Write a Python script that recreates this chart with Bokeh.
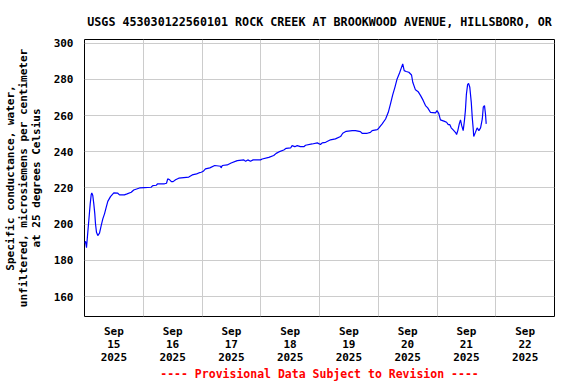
from bokeh.plotting import figure
from bokeh.models import Range1d, FixedTicker
from bokeh.embed import file_html
from bokeh.resources import INLINE

# hours since 2025-09-15 00:00
hours = [0.0, 0.41, 0.82, 1.35, 1.76, 2.33, 2.74, 2.98, 3.39, 3.80, 4.21, 4.49, 4.9, 5.43,
         6.13, 6.82, 7.48, 8.17, 8.86, 9.52, 10.62, 11.97, 13.6, 14.3, 16.3, 17.4, 19.1,
         20.1, 22.5, 24.5, 27.2, 27.9, 29.3, 29.9, 32.7, 33.5, 34.0, 34.8, 35.5, 36.2,
         37.2, 38.5, 42.6, 44.0, 45.8, 46.7, 47.7, 48.5, 49.4, 51.2, 53.2, 55.6, 55.8,
         56.3, 58.3, 59.9, 62.4, 65.1, 65.8, 66.7, 67.8, 68.9, 71.9, 72.6, 75.3, 77.3,
         78.3, 79.4, 81.4, 82.4, 84.2, 84.8, 85.9, 86.9, 88.2, 89.6, 90.3, 93.0, 95.1,
         96.4, 97.1, 98.5, 100.5, 102.5, 104.6, 105.5, 106.9, 109.4, 110.7, 112.7, 113.4,
         115.5, 116.8, 117.5, 119.6, 120.2, 121.6, 123.0, 124.1, 125.0, 125.9, 126.8,
         127.7, 128.7, 129.5, 130.0, 130.6, 131.4, 132.5, 133.6, 134.1, 135.2, 136.3,
         137.3, 138.3, 139.3, 140.2, 141.3, 143.4, 144.0, 144.7, 145.4, 147.1, 147.9,
         148.6, 149.2, 149.8, 150.6, 151.6, 152.0, 152.5, 153.1, 153.6, 154.1, 154.7,
         155.2, 155.6, 156.0, 156.5, 156.9, 157.4, 158.0, 158.4, 158.8, 159.0, 159.7,
         160.4, 161.1, 161.8, 162.5, 162.9, 163.4, 163.8, 164.1]
conductance = [189.5, 190.5, 187.0, 195.5, 202.0, 211.2, 216.3, 217.3, 215.8, 211.2, 205.7,
               200.2, 195.5, 193.7, 195.0, 199.2, 202.9, 205.7, 209.3, 212.6, 215.2, 217.3,
               217.1, 216.2, 216.2, 216.7, 217.6, 218.9, 220.0, 220.2, 220.4, 221.3, 221.5,
               222.3, 222.3, 222.6, 225.0, 224.5, 223.5, 223.5, 224.5, 225.4, 226.0, 227.2,
               227.8, 228.3, 228.7, 229.2, 230.5, 231.1, 232.4, 232.0, 231.1, 232.4, 232.7,
               233.8, 235.1, 235.5, 234.7, 235.5, 234.7, 235.5, 235.5, 236.0, 236.9, 237.9,
               239.1, 239.9, 241.0, 241.9, 242.1, 243.4, 242.8, 243.4, 242.8, 242.8, 243.6,
               244.3, 244.9, 244.0, 244.9, 245.2, 246.6, 247.1, 248.4, 250.2, 251.3, 251.7,
               251.7, 251.1, 250.2, 250.2, 250.7, 251.7, 252.2, 253.0, 255.4, 258.1, 261.8,
               266.4, 271.4, 275.6, 280.2, 283.5, 286.6, 288.5, 284.8, 284.3, 283.9, 282.4,
               278.4, 274.2, 273.2, 271.0, 268.5, 265.5, 264.2, 261.8, 261.5, 262.7, 261.2,
               257.6, 256.8, 256.3, 255.0, 255.0, 253.2, 252.1, 250.6, 249.5, 251.7, 255.4,
               257.6, 254.4, 251.7, 257.2, 262.7, 271.6, 277.1, 277.8, 275.6, 267.3, 259.0,
               252.6, 248.4, 250.7, 253.2, 251.7, 253.2, 258.1, 264.6, 265.5, 260.9, 255.4]

day_label_pos = [12, 36, 60, 84, 108, 132, 156, 180]
day_labels = ["Sep\n15\n2025", "Sep\n16\n2025", "Sep\n17\n2025", "Sep\n18\n2025",
              "Sep\n19\n2025", "Sep\n20\n2025", "Sep\n21\n2025", "Sep\n22\n2025"]
midnights = [24, 48, 72, 96, 120, 144, 168]
y_ticks = [160, 180, 200, 220, 240, 260, 280, 300]

FONT = "DejaVu Sans Mono"

p = figure(width=576, height=384, output_backend="svg", toolbar_location=None,
           x_range=Range1d(0, 192), y_range=Range1d(149, 302),
           min_border_left=84, min_border_right=22, min_border_top=39, min_border_bottom=68,
           title="USGS 453030122560101 ROCK CREEK AT BROOKWOOD AVENUE, HILLSBORO, OR")
p.background_fill_color = "white"
p.border_fill_color = "white"
p.outline_line_color = "black"
p.outline_line_width = 1

p.title.text_font = FONT
p.title.text_font_size = "11.7px"
p.title.text_font_style = "bold"
p.title.align = "center"
p.title.text_color = "black"
p.title.standoff = 21

p.line(hours, conductance, line_color="#0000FF", line_width=1.2)

xa = p.xaxis[0]
xa.ticker = FixedTicker(ticks=day_label_pos)
xa.major_label_overrides = {pos: lab for pos, lab in zip(day_label_pos, day_labels)}
xa.major_tick_out = 0
xa.major_tick_in = 0
xa.minor_tick_out = 0
xa.minor_tick_in = 0
xa.axis_line_color = None
xa.major_label_standoff = 8
xa.major_label_text_font = FONT
xa.major_label_text_font_size = "11px"
xa.major_label_text_font_style = "bold"
xa.major_label_text_color = "black"
xa.major_label_text_line_height = 1.0
xa.axis_label = "---- Provisional Data Subject to Revision ----"
xa.axis_label_text_font = FONT
xa.axis_label_text_font_size = "11.5px"
xa.axis_label_text_font_style = "bold"
xa.axis_label_text_color = "#FF0000"
xa.axis_label_standoff = 0

ya = p.yaxis[0]
ya.ticker = FixedTicker(ticks=y_ticks)
ya.major_tick_out = 0
ya.major_tick_in = 0
ya.minor_tick_out = 0
ya.minor_tick_in = 0
ya.axis_line_color = None
ya.major_label_standoff = 11
ya.major_label_text_font = FONT
ya.major_label_text_font_size = "11px"
ya.major_label_text_font_style = "bold"
ya.major_label_text_color = "black"
ya.axis_label = "Specific conductance, water,\nunfiltered, microsiemens per centimeter\nat 25 degrees Celsius"
ya.axis_label_text_font = FONT
ya.axis_label_text_font_size = "11px"
ya.axis_label_text_font_style = "bold"
ya.axis_label_text_color = "black"
ya.axis_label_text_line_height = 1.0
ya.axis_label_standoff = 8

p.xgrid.ticker = FixedTicker(ticks=midnights)
p.xgrid.grid_line_color = "#CCCCCC"
p.ygrid.grid_line_color = "#CCCCCC"
p.xgrid.grid_line_width = 1
p.ygrid.grid_line_width = 1

open("out.html", "w").write(file_html(p, INLINE))
